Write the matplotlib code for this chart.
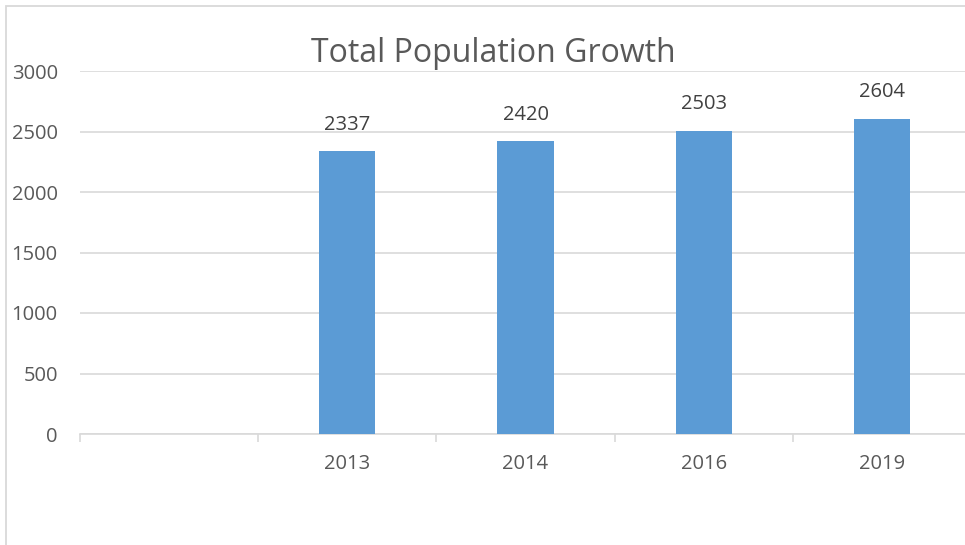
import matplotlib.pyplot as plt
import matplotlib
from matplotlib.patches import Rectangle
import numpy as np

# chart data
categories = ['', '2013', '2014', '2016', '2019']
population = [np.nan, 2337, 2420, 2503, 2604]
yticks = [0, 500, 1000, 1500, 2000, 2500, 3000]

plt.rcParams['font.family'] = ['Open Sans', 'DejaVu Sans']
text_col = '#595959'
grid_col = '#d9d9d9'
bar_col = '#5b9bd5'

fig = plt.figure(figsize=(9.65, 5.45), dpi=100)
W, H = 965, 545

# outer chart border (light grey, runs off right/bottom edge)
fig.patches.append(Rectangle((6 / W, -0.1), 1.2, 1 - 6 / H + 0.1, transform=fig.transFigure,
                             fill=False, edgecolor=grid_col, linewidth=1.3))

ax = fig.add_axes([80 / W, (H - 434) / H, (971 - 80) / W, (434 - 71) / H])

x = np.arange(len(categories))
mask = ~np.isnan(population)
vals = np.array(population)
bars = ax.bar(x[mask], vals[mask], width=0.315, color=bar_col, zorder=3)

for xi, v in zip(x[mask], vals[mask]):
    ax.annotate(f'{int(v)}', (xi, v), xytext=(0, 12), textcoords='offset points',
                ha='center', va='bottom', fontsize=14.5, color='#404040')

ax.set_xlim(-0.5, len(categories) - 0.5)
ax.set_ylim(0, 3000)
ax.set_yticks(yticks)
ax.set_yticklabels([str(t) for t in yticks])
ax.yaxis.grid(True, color=grid_col, linewidth=1.2, zorder=0)
ax.set_axisbelow(True)

ax.set_xticks(x)
ax.set_xticklabels(categories)
ax.xaxis.set_minor_locator(matplotlib.ticker.FixedLocator(np.arange(-0.5, len(categories), 1)))
ax.tick_params(axis='x', which='major', length=0, pad=14.5, labelsize=14.5, labelcolor=text_col)
ax.tick_params(axis='x', which='minor', length=6, width=1.2, color=grid_col)
ax.tick_params(axis='y', length=0, pad=16, labelsize=14.5, labelcolor=text_col)

for s in ['top', 'right', 'left']:
    ax.spines[s].set_visible(False)
ax.spines['bottom'].set_color(grid_col)
ax.spines['bottom'].set_linewidth(1.2)

fig.text(493 / W, (H - 62) / H, 'Total Population Growth', ha='center', va='baseline',
         fontsize=23, color=text_col)

fig.savefig('out.png', dpi=100)
